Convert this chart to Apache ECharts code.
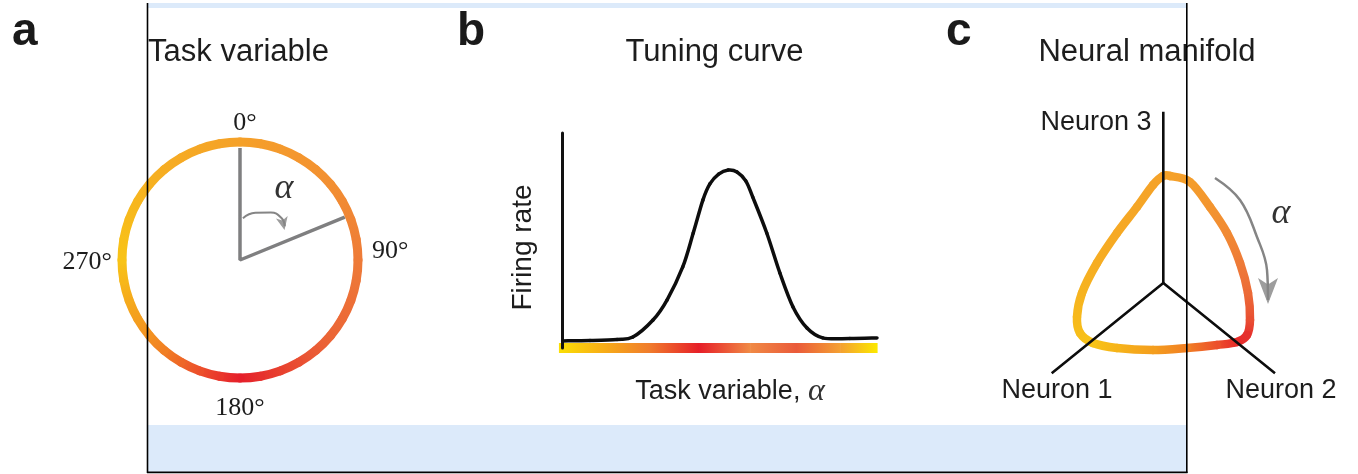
<!DOCTYPE html>
<html>
<head>
<meta charset="utf-8">
<script src="https://cdn.jsdelivr.net/npm/echarts@6/dist/echarts.min.js"></script>
<style>
html,body{margin:0;padding:0;background:#ffffff;}
#chart{width:1358px;height:474px;}
</style>
</head>
<body>
<div id="chart"></div>
<script>
// ---------- Panel a: task variable on a circle ----------
const circleAngles = [0,10,20,30,40,50,60,70,80,90,100,110,120,130,140,150,160,170,
                      180,190,200,210,220,230,240,250,260,270,280,290,300,310,320,330,340,350];
const circleRadius = 1;
const degreeTicks = [0, 90, 180, 270];
const pointerRadius = [0.95, 0, 0.96];
const pointerAngle = [0, 0, 67.7];
const arrowArcRadius = [0.355, 0.42, 0.48, 0.50, 0.475];
const arrowArcAngle = [4, 18, 33, 45, 53];
const arrowHeadA = [0.455, 56];

// colour of the task variable alpha (degrees)
const alphaStops  = [0, 45, 90, 135, 165, 180, 200, 225, 270, 315, 360];
const alphaColors = ['#f5a129','#f39131','#ee7b38','#eb6336','#e73a2e','#e51f2a','#ec4f2b','#f28b22','#f8c317','#f6af21','#f5a129'];

// ---------- Panel b: tuning curve ----------
const tuningAlpha = [1, 32, 63, 81, 104, 120, 138, 150, 161, 169, 179, 190, 200, 210, 218, 234, 249, 264, 280, 298, 329, 360];
const tuningRate  = [3.3, 3.5, 4.0, 5.1, 13.0, 22.3, 37.7, 53.5, 68.8, 76.3, 80.9, 82.8, 81.9, 77.7, 70.2, 53.5, 34.9, 19.1, 9.3, 4.7, 4.4, 4.7];
const barAlpha  = [-3.5, 40, 100, 157, 215, 268, 318, 360];
const barColors = ['#fadf05','#f8b414','#f07c2c','#e61e28','#f08a45','#ea5a3a','#f4a032','#fce800'];

// ---------- Panel c: neural manifold ----------
const loopX = [170, 190, 210, 227, 240, 248, 250, 247, 237, 217, 187, 153, 117, 93, 80, 77, 82, 97, 117, 137, 153, 163];
const loopY = [224, 218, 193, 167, 137, 107, 80, 65, 58, 55, 52, 50, 52, 57, 67, 83, 107, 137, 167, 193, 215, 224];
const loopAlpha = [0, 12, 35, 60, 90, 120, 150, 170, 185, 200, 220, 240, 258, 270, 282, 292, 305, 320, 333, 345, 354, 358];
const neuronOrigin = [163.3, 117];
const neuron1End = [51.7, 26.7];
const neuron2End = [275, 26.7];
const neuron3End = [163.3, 288.3];
const neuronLabels = ['Neuron 1', 'Neuron 2', 'Neuron 3'];
const manifoldArrowX = [215, 240, 257, 267, 268];
const manifoldArrowY = [222, 200, 163, 130, 100];
const manifoldArrowHead = [268, 96];

const titles = ['Task variable', 'Tuning curve', 'Neural manifold'];
const panelLetters = ['a', 'b', 'c'];

function colorAt(a) {
  if (a > 360) a -= 360;
  for (let k = 0; k < alphaStops.length - 1; k++) {
    if (a >= alphaStops[k] && a <= alphaStops[k + 1]) {
      const t = (a - alphaStops[k]) / (alphaStops[k + 1] - alphaStops[k]);
      return echarts.color.lerp(t, [alphaColors[k], alphaColors[k + 1]]);
    }
  }
  return alphaColors[0];
}

// Catmull-Rom segment between item i and i+1 (closed loop or open curve)
function segmentRenderer(xDim, yDim, aDim, width, closed, solidColor) {
  return function (params, api) {
    const n = params.dataInsideLength;
    const i = params.dataIndexInside;
    if (!closed && i >= n - 1) return null;
    const idx = k => closed ? ((k % n) + n) % n : Math.max(0, Math.min(n - 1, k));
    const P = k => { const j = idx(k); return api.coord([api.value(xDim, j), api.value(yDim, j)]); };
    const p0 = P(i - 1), p1 = P(i), p2 = P(i + 1), p3 = P(i + 2);
    const c1 = [p1[0] + (p2[0] - p0[0]) / 6, p1[1] + (p2[1] - p0[1]) / 6];
    const c2 = [p2[0] - (p3[0] - p1[0]) / 6, p2[1] - (p3[1] - p1[1]) / 6];
    let stroke = solidColor;
    if (!solidColor) {
      let a1 = api.value(aDim, idx(i)), a2 = api.value(aDim, idx(i + 1));
      if (a2 < a1) a2 += 360;
      stroke = new echarts.graphic.LinearGradient(p1[0], p1[1], p2[0], p2[1],
        [{ offset: 0, color: colorAt(a1) }, { offset: 1, color: colorAt(a2) }], true);
    }
    return {
      type: 'bezierCurve',
      shape: { x1: p1[0], y1: p1[1], x2: p2[0], y2: p2[1], cpx1: c1[0], cpy1: c1[1], cpx2: c2[0], cpy2: c2[1] },
      style: { fill: 'none', stroke: stroke, lineWidth: width, lineCap: 'round' }
    };
  };
}

const serif = "'Liberation Serif', 'DejaVu Serif', serif";
const sans = "'Liberation Sans', Arial, Helvetica, sans-serif";
const txt = '#1d1d1d';
const grayArrow = '#858585';

const degRich = {
  t0:   { fontFamily: serif, fontSize: 26, color: txt, lineHeight: 18, padding: [0, 0, 0, 10] },
  t90:  { fontFamily: serif, fontSize: 26, color: txt, padding: [0, 0, 18, 4] },
  t180: { fontFamily: serif, fontSize: 26, color: txt, lineHeight: 40 },
  t270: { fontFamily: serif, fontSize: 26, color: txt, padding: [4, 0, 0, 0] }
};

const chart = echarts.init(document.getElementById('chart'), null, { renderer: 'canvas' });

function centeredText(x, y, text, font, extra) {
  return Object.assign({ type: 'text', x: x, y: y, z: 50,
    style: { text: text, font: font, fill: txt, align: 'center', verticalAlign: 'middle',
             textAlign: 'center', textVerticalAlign: 'middle' } }, extra || {});
}

const option = {
  animation: false,
  backgroundColor: '#ffffff',
  polar: [{ center: [240, 260], radius: 118 }],
  angleAxis: [{
    polarIndex: 0, type: 'value', min: 0, max: 360, interval: 90,
    startAngle: 90, clockwise: true,
    axisLine: { show: false }, axisTick: { show: false }, splitLine: { show: false },
    axisLabel: {
      show: true, margin: 10,
      formatter: v => (degreeTicks.indexOf(v) >= 0 ? '{t' + v + '|' + v + '°}' : ''),
      rich: degRich
    }
  }],
  radiusAxis: [{ polarIndex: 0, type: 'value', min: 0, max: 1, show: false }],
  grid: [
    { left: 562, top: 133, width: 315, height: 215 },
    { left: 1000, top: 100, width: 300, height: 300 }
  ],
  xAxis: [
    { gridIndex: 0, type: 'value', min: 0, max: 360, show: false },
    { gridIndex: 1, type: 'value', min: 0, max: 300, show: false }
  ],
  yAxis: [
    { gridIndex: 0, type: 'value', min: 0, max: 100, z: 3,
      axisLine: { show: true, onZero: false, lineStyle: { color: '#111', width: 3 } },
      axisTick: { show: false }, axisLabel: { show: false }, splitLine: { show: false } },
    { gridIndex: 1, type: 'value', min: 0, max: 300, show: false }
  ],
  series: [
    // panel a: pointer lines
    { type: 'line', coordinateSystem: 'polar', polarIndex: 0, symbol: 'none', z: 1,
      data: pointerRadius.map((r, i) => [r, pointerAngle[i]]),
      lineStyle: { color: '#7f7f80', width: 3.5 } },
    // panel a: colour ring
    { type: 'custom', coordinateSystem: 'polar', polarIndex: 0, z: 2,
      data: circleAngles.map(a => [circleRadius, a]),
      renderItem: segmentRenderer(0, 1, 1, 9, true) },
    // panel a: alpha arrow
    { type: 'line', coordinateSystem: 'polar', polarIndex: 0, symbol: 'none', smooth: 0.5, z: 3,
      data: arrowArcRadius.map((r, i) => [r, arrowArcAngle[i]]),
      lineStyle: { color: grayArrow, width: 2 } },
    { type: 'scatter', coordinateSystem: 'polar', polarIndex: 0, z: 3,
      symbol: 'arrow', symbolSize: [9, 13], symbolRotate: 192,
      itemStyle: { color: grayArrow }, data: [arrowHeadA] },
    // panel b: colour bar of task variable
    { type: 'custom', xAxisIndex: 0, yAxisIndex: 0, z: 2,
      data: barAlpha.map(a => [a, 0]),
      renderItem: function (params, api) {
        const i = params.dataIndexInside, n = params.dataInsideLength;
        if (i >= n - 1) return null;
        const p1 = api.coord([api.value(0, i), 0]);
        const p2 = api.coord([api.value(0, i + 1), 0]);
        return {
          type: 'rect',
          shape: { x: p1[0], y: p1[1] - 5, width: p2[0] - p1[0] + 0.6, height: 10 },
          style: { fill: new echarts.graphic.LinearGradient(p1[0], 0, p2[0], 0,
            [{ offset: 0, color: barColors[i] }, { offset: 1, color: barColors[i + 1] }], true) }
        };
      } },
    // panel b: tuning curve
    { type: 'custom', xAxisIndex: 0, yAxisIndex: 0, z: 4,
      data: tuningAlpha.map((a, i) => [a, tuningRate[i]]),
      renderItem: segmentRenderer(0, 1, 0, 3.5, false, '#0d0d0d') },
    // panel c: manifold loop
    { type: 'custom', xAxisIndex: 1, yAxisIndex: 1, z: 2,
      data: loopX.map((x, i) => [x, loopY[i], loopAlpha[i]]),
      renderItem: segmentRenderer(0, 1, 2, 8.5, true) },
    // panel c: neuron axes
    { type: 'line', xAxisIndex: 1, yAxisIndex: 1, symbol: 'none', z: 5,
      data: [neuron1End, neuronOrigin, neuron2End],
      lineStyle: { color: '#0d0d0d', width: 2.6 } },
    { type: 'line', xAxisIndex: 1, yAxisIndex: 1, symbol: 'none', z: 5,
      data: [neuronOrigin, neuron3End],
      lineStyle: { color: '#0d0d0d', width: 2.6 } },
    // panel c: alpha arrow
    { type: 'line', xAxisIndex: 1, yAxisIndex: 1, symbol: 'none', smooth: 0.4, z: 3,
      data: manifoldArrowX.map((x, i) => [x, manifoldArrowY[i]]),
      lineStyle: { color: grayArrow, width: 2.5 } },
    { type: 'scatter', xAxisIndex: 1, yAxisIndex: 1, z: 3,
      symbol: 'arrow', symbolSize: [15, 26], symbolRotate: 180,
      itemStyle: { color: grayArrow }, data: [manifoldArrowHead] }
  ],
  graphic: [
    // frame overlay
    { type: 'rect', shape: { x: 148, y: 3, width: 1038, height: 5 }, style: { fill: '#dceafa' }, z: 0 },
    { type: 'rect', shape: { x: 148, y: 425, width: 1038, height: 47 }, style: { fill: '#dceafa' }, z: 0 },
    { type: 'line', shape: { x1: 147.5, y1: 3, x2: 147.5, y2: 473 }, style: { stroke: '#000', lineWidth: 1.6 }, z: 100 },
    { type: 'line', shape: { x1: 1186.8, y1: 3, x2: 1186.8, y2: 473 }, style: { stroke: '#000', lineWidth: 1.6 }, z: 100 },
    { type: 'line', shape: { x1: 147, y1: 472.4, x2: 1187.5, y2: 472.4 }, style: { stroke: '#000', lineWidth: 1.6 }, z: 100 },
    // panel letters
    { type: 'text', x: 12, y: 32, z: 50, style: { text: panelLetters[0], font: 'bold 46px ' + sans, fill: '#1a1a1a', align: 'left', verticalAlign: 'middle', textAlign: 'left', textVerticalAlign: 'middle' } },
    { type: 'text', x: 457, y: 32, z: 50, style: { text: panelLetters[1], font: 'bold 46px ' + sans, fill: '#1a1a1a', align: 'left', verticalAlign: 'middle', textAlign: 'left', textVerticalAlign: 'middle' } },
    { type: 'text', x: 946, y: 32, z: 50, style: { text: panelLetters[2], font: 'bold 46px ' + sans, fill: '#1a1a1a', align: 'left', verticalAlign: 'middle', textAlign: 'left', textVerticalAlign: 'middle' } },
    // titles
    centeredText(238.5, 52, titles[0], '31px ' + sans),
    centeredText(714.5, 52, titles[1], '31px ' + sans),
    centeredText(1147, 52, titles[2], '31px ' + sans),
    // alpha labels
    { type: 'text', x: 284, y: 189, z: 50, style: { text: 'α', font: 'italic 36px ' + serif, fill: '#333', align: 'center', verticalAlign: 'middle', textAlign: 'center', textVerticalAlign: 'middle' } },
    { type: 'text', x: 1281, y: 214, z: 50, style: { text: 'α', font: 'italic 36px ' + serif, fill: '#333', align: 'center', verticalAlign: 'middle', textAlign: 'center', textVerticalAlign: 'middle' } },
    // panel b axis titles
    centeredText(523, 247.5, 'Firing rate', '28px ' + sans, { rotation: Math.PI / 2 }),
    { type: 'text', x: 730, y: 392, z: 50, style: { text: 'Task variable, {a|α}', font: '27px ' + sans, fill: txt, align: 'center', verticalAlign: 'middle', textAlign: 'center', textVerticalAlign: 'middle',
      rich: { a: { font: 'italic 32px ' + serif, fill: '#333', color: '#333' } } } },
    // neuron labels
    centeredText(1057, 391, neuronLabels[0], '27px ' + sans),
    centeredText(1281, 391, neuronLabels[1], '27px ' + sans),
    centeredText(1096, 123, neuronLabels[2], '27px ' + sans)
  ]
};

chart.setOption(option);
</script>
</body>
</html>
